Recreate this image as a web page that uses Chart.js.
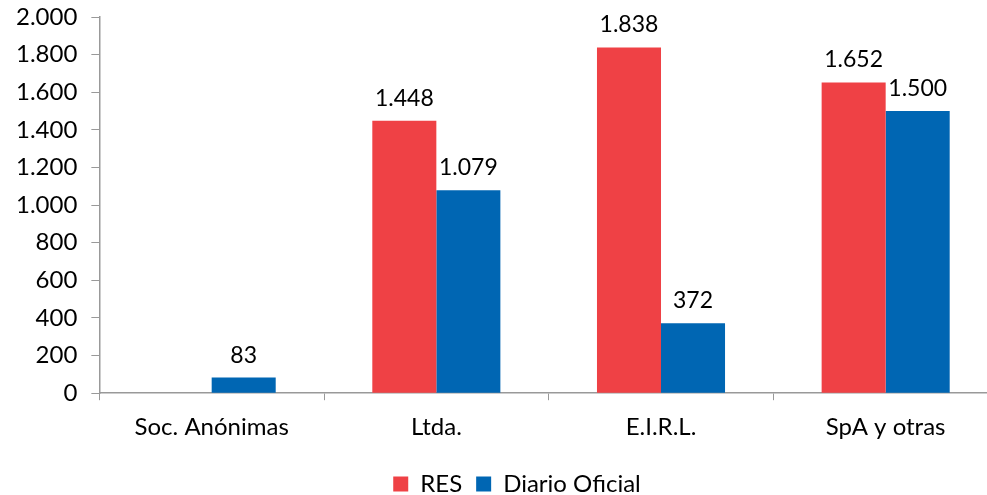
<!DOCTYPE html>
<html>
<head>
<meta charset="utf-8">
<script src="https://cdn.jsdelivr.net/npm/chart.js@4/dist/chart.umd.min.js"></script>
<style>
  html, body { margin: 0; padding: 0; background: #fff; overflow: hidden; }
  #wrap { width: 1030px; height: 495px; }
</style>
</head>
<body>
<div id="wrap"><canvas id="chart" width="1030" height="495"></canvas></div>
<script>
// Data
const categories = ['Soc. Anónimas', 'Ltda.', 'E.I.R.L.', 'SpA y otras'];
const resValues = [null, 1448, 1838, 1652];
const diarioValues = [83, 1079, 372, 1500];

const FONT = 'Lato, "Open Sans", sans-serif';

function fmt(v) {
    return v.toLocaleString('es-CL');
}

// Value labels above bars
const barLabels = {
    id: 'barLabels',
    afterDatasetsDraw(chart) {
        const ctx = chart.ctx;
        ctx.save();
        ctx.font = '23px ' + FONT;
        ctx.fillStyle = '#000';
        ctx.textAlign = 'center';
        ctx.textBaseline = 'bottom';
        chart.data.datasets.forEach((ds, i) => {
            chart.getDatasetMeta(i).data.forEach((bar, j) => {
                const v = ds.data[j];
                if (v === null) return;
                ctx.fillText(fmt(v), bar.x, bar.y - 11);
            });
        });
        ctx.restore();
    }
};

// Nudge legend a bit to the right (visible page is narrower than canvas)
const legendShift = {
    id: 'legendShift',
    beforeDraw(chart) {
        chart.legend.left += 17;
        chart.legend.right += 17;
    }
};

new Chart(document.getElementById('chart').getContext('2d'), {
    type: 'bar',
    data: {
        labels: categories,
        datasets: [{
            label: 'RES',
            data: resValues,
            backgroundColor: '#EF4145',
            borderWidth: 0
        }, {
            label: 'Diario Oficial',
            data: diarioValues,
            backgroundColor: '#0066B3',
            borderWidth: 0
        }]
    },
    options: {
        responsive: false,
        animation: false,
        categoryPercentage: 0.57,
        barPercentage: 1.0,
        layout: { padding: { left: 2, right: 32, top: 17, bottom: -11 } },
        scales: {
            x: {
                offset: true,
                grid: {
                    offset: true,
                    drawOnChartArea: false,
                    drawTicks: true,
                    tickLength: 7,
                    color: '#999'
                },
                border: { color: '#999', width: 1.5 },
                ticks: {
                    color: '#000',
                    font: { size: 24, family: FONT },
                    padding: 13
                },
                afterFit: scale => { scale.height += 3; }
            },
            y: {
                min: 0,
                max: 2000,
                grid: {
                    drawOnChartArea: false,
                    drawTicks: true,
                    tickLength: 8,
                    color: '#999'
                },
                border: { color: '#999', width: 1.5 },
                ticks: {
                    stepSize: 200,
                    color: '#000',
                    font: { size: 24, family: FONT },
                    padding: 14,
                    callback: v => fmt(v)
                },
                afterFit: scale => { scale.paddingTop = 0; }
            }
        },
        plugins: {
            legend: {
                position: 'bottom',
                labels: {
                    boxWidth: 15,
                    boxHeight: 15,
                    color: '#000',
                    font: { size: 24, family: FONT },
                    padding: 14
                }
            },
            tooltip: { enabled: false }
        }
    },
    plugins: [barLabels, legendShift]
});
</script>
</body>
</html>
